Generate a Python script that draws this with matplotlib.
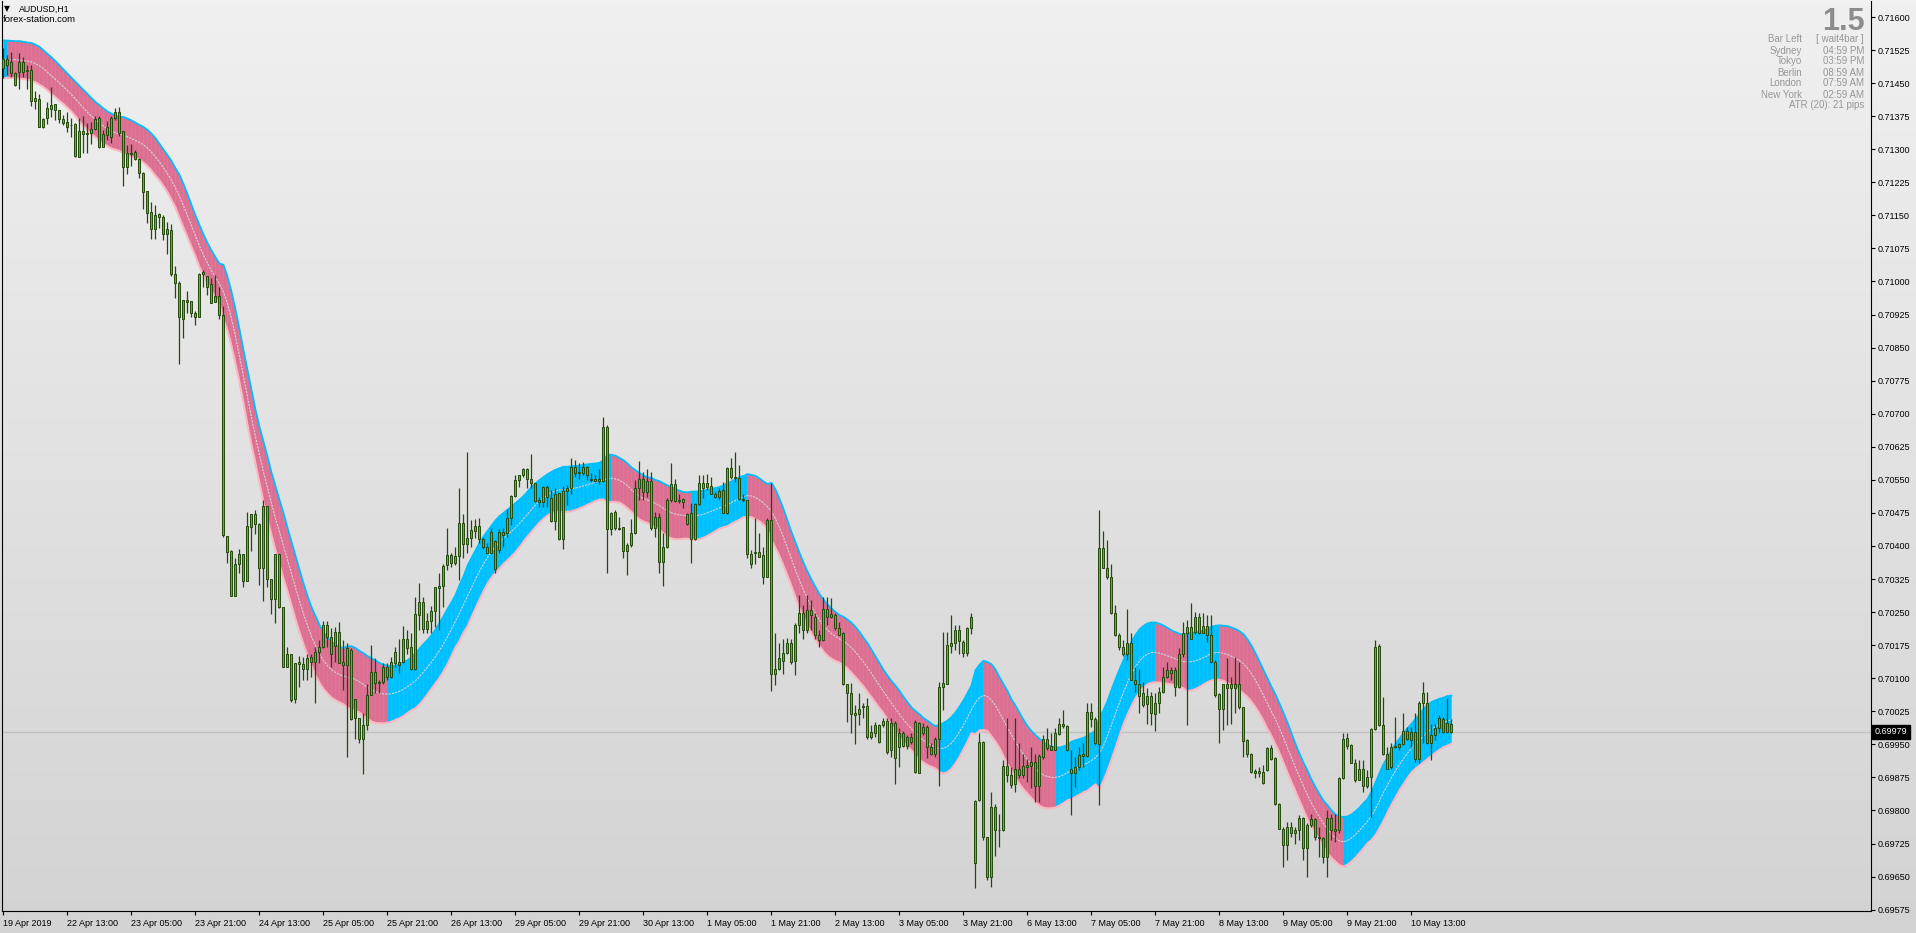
"""
AUDUSD H1 candles with a smoothed ATR channel, redrawn from a MetaTrader screenshot.
"""

import numpy as np
import matplotlib
matplotlib.use('Agg')
import matplotlib.pyplot as plt
import matplotlib.transforms as mtransforms
from matplotlib.collections import PolyCollection
from matplotlib.colors import LinearSegmentedColormap

plt.rcParams['font.family'] = ['Liberation Sans', 'DejaVu Sans']

# OHLC in points (1e-5), one value per H1 bar
open_pts = [
    71484, 71504, 71474, 71445, 71476, 71497, 71480, 71480, 71410, 71413,
    71350, 71370, 71392, 71389, 71388, 71360, 71362, 71356, 71357, 71283,
    71334, 71336, 71336, 71347, 71370, 71306, 71332, 71327, 71372, 71384,
    71341, 71259, 71289, 71293, 71277, 71245, 71205, 71158, 71120, 71146,
    71146, 71107, 71117, 71017, 70996, 70916, 70959, 70956, 70928, 70919,
    71021, 70988, 70994, 70954, 70967, 70924, 70422, 70388, 70287, 70360,
    70382, 70321, 70442, 70450, 70450, 70351, 70491, 70324, 70279, 70382,
    70261, 70126, 70155, 70052, 70132, 70132, 70122, 70137, 70136, 70160,
    70171, 70221, 70194, 70174, 70204, 70137, 70130, 70164, 70052, 70009,
    69963, 69994, 70062, 70115, 70092, 70092, 70102, 70102, 70135, 70136,
    70136, 70190, 70170, 70120, 70243, 70273, 70211, 70230, 70253, 70304,
    70309, 70357, 70379, 70362, 70377, 70453, 70404, 70417, 70435, 70445,
    70415, 70398, 70385, 70411, 70391, 70426, 70429, 70463, 70513, 70550,
    70560, 70574, 70553, 70542, 70500, 70500, 70533, 70508, 70457, 70521,
    70415, 70525, 70531, 70580, 70566, 70566, 70580, 70552, 70548, 70548,
    70548, 70670, 70438, 70478, 70440, 70442, 70388, 70402, 70430, 70531,
    70551, 70523, 70548, 70440, 70466, 70364, 70397, 70504, 70540, 70503,
    70500, 70450, 70415, 70415, 70495, 70531, 70542, 70536, 70519, 70510,
    70527, 70475, 70576, 70557, 70555, 70506, 70504, 70382, 70383, 70387,
    70379, 70330, 70460, 70109, 70122, 70140, 70158, 70180, 70140, 70220,
    70249, 70209, 70254, 70239, 70198, 70186, 70258, 70239, 70243, 70214,
    70202, 70086, 70067, 70020, 70019, 70034, 70037, 69966, 69976, 69956,
    69994, 70003, 69937, 69999, 69944, 69975, 69946, 69966, 70001, 69886,
    69975, 69990, 69945, 69928, 69963, 70079, 70088, 70173, 70179, 70209,
    70183, 70158, 70213, 69681, 69823, 69956, 69739, 69650, 69807, 69755,
    69755, 69900, 69880, 69861, 69895, 69880, 69898, 69901, 69910, 69855,
    69922, 69963, 69938, 69938, 69973, 69996, 69992, 69884, 69884, 69898,
    69923, 69923, 70024, 70007, 69951, 70395, 70351, 70330, 70247, 70198,
    70171, 70155, 70179, 70097, 70087, 70066, 70041, 70059, 70019, 70044,
    70069, 70103, 70112, 70118, 70079, 70155, 70202, 70217, 70205, 70238,
    70203, 70218, 70198, 70137, 70064, 70031, 70077, 70087, 70077, 70087,
    70034, 69960, 69929, 69884, 69889, 69888, 69891, 69941, 69918, 69814,
    69759, 69721, 69748, 69748, 69755, 69784, 69714, 69767, 69780, 69740,
    69737, 69695, 69782, 69757, 69755, 69873, 69965, 69948, 69908, 69870,
    69895, 69855, 69875, 69984, 70173, 69994, 69895, 69898, 69943, 69945,
    69951, 69981, 69960, 69979, 69916, 70066, 70044, 69952, 69971, 69986,
    70007, 69979, 69997,
]
high_pts = [
    71529, 71514, 71520, 71476, 71519, 71510, 71491, 71491, 71431, 71425,
    71372, 71408, 71442, 71403, 71388, 71378, 71385, 71370, 71360, 71370,
    71375, 71359, 71362, 71375, 71375, 71344, 71365, 71375, 71393, 71395,
    71341, 71310, 71311, 71298, 71279, 71249, 71206, 71180, 71174, 71156,
    71150, 71136, 71130, 71035, 71002, 70959, 70979, 70956, 70934, 71020,
    71026, 71012, 71009, 71014, 70988, 70944, 70422, 70391, 70372, 70393,
    70382, 70476, 70472, 70481, 70453, 70504, 70491, 70324, 70382, 70382,
    70261, 70170, 70155, 70134, 70150, 70149, 70156, 70155, 70171, 70187,
    70230, 70230, 70213, 70217, 70228, 70187, 70179, 70168, 70052, 70009,
    70020, 70088, 70175, 70145, 70096, 70135, 70135, 70149, 70171, 70190,
    70218, 70209, 70202, 70285, 70317, 70285, 70247, 70264, 70308, 70339,
    70360, 70440, 70383, 70398, 70531, 70472, 70614, 70459, 70461, 70463,
    70421, 70406, 70441, 70413, 70438, 70440, 70483, 70516, 70561, 70562,
    70576, 70576, 70609, 70542, 70512, 70536, 70538, 70527, 70531, 70521,
    70536, 70538, 70599, 70595, 70589, 70590, 70581, 70566, 70561, 70574,
    70693, 70674, 70478, 70481, 70466, 70444, 70406, 70462, 70550, 70593,
    70568, 70574, 70568, 70478, 70474, 70429, 70508, 70589, 70553, 70519,
    70508, 70474, 70497, 70498, 70561, 70561, 70563, 70556, 70523, 70531,
    70546, 70580, 70599, 70614, 70584, 70519, 70504, 70391, 70463, 70429,
    70398, 70463, 70542, 70202, 70180, 70188, 70192, 70190, 70226, 70289,
    70266, 70289, 70277, 70247, 70209, 70285, 70285, 70281, 70247, 70228,
    70204, 70086, 70090, 70039, 70066, 70043, 70054, 69994, 70001, 69997,
    70009, 70009, 70009, 70004, 69986, 69981, 69972, 69975, 70005, 70001,
    69999, 69994, 69952, 69967, 70092, 70205, 70205, 70243, 70220, 70220,
    70187, 70217, 70249, 69823, 69975, 69957, 69740, 69842, 69814, 69793,
    69914, 70009, 69899, 70009, 69952, 69929, 69916, 69945, 69929, 69929,
    69971, 69986, 69975, 69986, 70009, 70028, 69994, 69937, 69922, 69944,
    69952, 70043, 70043, 70013, 70481, 70435, 70413, 70360, 70266, 70202,
    70187, 70258, 70202, 70125, 70122, 70092, 70077, 70069, 70066, 70081,
    70126, 70137, 70126, 70126, 70168, 70228, 70232, 70270, 70251, 70249,
    70247, 70243, 70243, 70141, 70066, 70088, 70145, 70103, 70149, 70137,
    70035, 69963, 69931, 69895, 69899, 69903, 69945, 69948, 69922, 69817,
    69763, 69774, 69774, 69763, 69789, 69786, 69771, 69793, 69782, 69763,
    69740, 69801, 69793, 69793, 69876, 69976, 69976, 69950, 69916, 69914,
    69914, 69892, 69986, 70187, 70177, 70058, 69945, 69952, 70013, 69952,
    70020, 69990, 69990, 70020, 70049, 70092, 70069, 69996, 69997, 70016,
    70011, 70054, 70007,
]
low_pts = [
    71461, 71468, 71465, 71444, 71436, 71465, 71436, 71397, 71391, 71350,
    71349, 71357, 71374, 71366, 71359, 71355, 71340, 71328, 71283, 71283,
    71292, 71292, 71313, 71344, 71303, 71306, 71321, 71315, 71366, 71330,
    71217, 71244, 71262, 71276, 71234, 71164, 71133, 71096, 71096, 71122,
    71093, 71062, 71012, 70963, 70812, 70871, 70928, 70920, 70901, 70919,
    70988, 70969, 70952, 70954, 70916, 70420, 70362, 70287, 70287, 70339,
    70307, 70321, 70389, 70427, 70311, 70276, 70307, 70246, 70226, 70260,
    70126, 70126, 70047, 70043, 70081, 70096, 70096, 70103, 70043, 70134,
    70168, 70171, 70126, 70137, 70135, 70073, 69922, 70006, 69963, 69952,
    69882, 69982, 70062, 70066, 70066, 70088, 70096, 70100, 70126, 70111,
    70134, 70156, 70118, 70118, 70209, 70202, 70202, 70202, 70217, 70209,
    70262, 70345, 70353, 70357, 70323, 70372, 70383, 70398, 70417, 70406,
    70394, 70383, 70383, 70338, 70383, 70398, 70421, 70447, 70512, 70533,
    70557, 70531, 70531, 70500, 70489, 70489, 70489, 70455, 70436, 70413,
    70392, 70493, 70519, 70557, 70553, 70561, 70550, 70546, 70546, 70540,
    70546, 70338, 70425, 70436, 70436, 70372, 70334, 70398, 70428, 70504,
    70504, 70512, 70436, 70421, 70339, 70309, 70395, 70500, 70500, 70497,
    70485, 70447, 70362, 70413, 70493, 70508, 70527, 70518, 70508, 70504,
    70474, 70472, 70553, 70546, 70504, 70500, 70372, 70349, 70360, 70374,
    70314, 70329, 70072, 70084, 70118, 70109, 70156, 70133, 70107, 70202,
    70190, 70202, 70209, 70188, 70171, 70185, 70220, 70236, 70209, 70198,
    70084, 70001, 69976, 69951, 69994, 70009, 69963, 69963, 69967, 69954,
    69990, 69929, 69922, 69860, 69899, 69944, 69940, 69950, 69884, 69884,
    69971, 69920, 69926, 69922, 69855, 70028, 70088, 70158, 70164, 70156,
    70149, 70150, 70200, 69625, 69822, 69733, 69642, 69627, 69696, 69718,
    69754, 69865, 69850, 69842, 69873, 69873, 69865, 69850, 69820, 69820,
    69916, 69938, 69937, 69937, 69971, 69986, 69935, 69789, 69853, 69891,
    69899, 69922, 69990, 69948, 69812, 70349, 70326, 70246, 70196, 70164,
    70150, 70141, 70096, 70069, 70020, 70035, 69997, 69994, 69981, 70020,
    70066, 70100, 70097, 70059, 70077, 70149, 69994, 70188, 70201, 70200,
    70202, 70183, 70135, 70058, 69952, 69982, 69994, 69997, 70020, 70031,
    69922, 69922, 69884, 69873, 69876, 69860, 69890, 69914, 69812, 69757,
    69671, 69687, 69740, 69725, 69734, 69687, 69648, 69763, 69733, 69695,
    69680, 69650, 69733, 69729, 69749, 69871, 69940, 69907, 69865, 69869,
    69842, 69850, 69786, 69982, 69992, 69926, 69893, 69895, 69941, 69938,
    69948, 69960, 69945, 69910, 69907, 69952, 69951, 69914, 69960, 69975,
    69975, 69975, 69976,
]
close_pts = [
    71504, 71490, 71497, 71472, 71497, 71476, 71477, 71410, 71416, 71350,
    71368, 71393, 71400, 71402, 71368, 71369, 71351, 71354, 71285, 71341,
    71341, 71334, 71347, 71368, 71306, 71334, 71350, 71370, 71384, 71336,
    71259, 71291, 71291, 71277, 71245, 71204, 71156, 71120, 71150, 71152,
    71107, 71118, 71017, 70996, 70919, 70959, 70954, 70928, 70920, 71018,
    71016, 71012, 70952, 70967, 70924, 70425, 70387, 70287, 70360, 70382,
    70321, 70445, 70472, 70472, 70351, 70491, 70324, 70279, 70382, 70261,
    70126, 70155, 70050, 70134, 70137, 70120, 70145, 70147, 70160, 70171,
    70221, 70194, 70156, 70204, 70135, 70131, 70168, 70007, 70009, 69963,
    69994, 70062, 70115, 70090, 70090, 70126, 70126, 70136, 70160, 70131,
    70190, 70168, 70120, 70246, 70273, 70211, 70230, 70253, 70306, 70309,
    70354, 70379, 70362, 70377, 70453, 70404, 70419, 70436, 70445, 70415,
    70397, 70385, 70431, 70347, 70431, 70432, 70463, 70513, 70550, 70560,
    70574, 70553, 70542, 70503, 70505, 70534, 70512, 70457, 70519, 70415,
    70525, 70531, 70580, 70566, 70568, 70580, 70561, 70550, 70553, 70553,
    70670, 70438, 70475, 70440, 70439, 70388, 70402, 70430, 70531, 70551,
    70523, 70548, 70440, 70466, 70364, 70397, 70504, 70540, 70503, 70504,
    70506, 70472, 70474, 70495, 70542, 70542, 70534, 70519, 70510, 70525,
    70475, 70576, 70556, 70555, 70506, 70504, 70382, 70360, 70387, 70376,
    70330, 70459, 70109, 70122, 70145, 70158, 70180, 70137, 70220, 70249,
    70209, 70254, 70243, 70198, 70186, 70258, 70238, 70245, 70213, 70199,
    70086, 70067, 70019, 70016, 70031, 70037, 69966, 69978, 69994, 69994,
    70003, 69933, 69999, 69918, 69975, 69946, 69966, 69955, 69888, 69999,
    69990, 69945, 69928, 69963, 70081, 70088, 70175, 70179, 70209, 70185,
    70158, 70213, 70238, 69822, 69956, 69739, 69648, 69807, 69755, 69756,
    69901, 69880, 69858, 69895, 69880, 69901, 69903, 69910, 69855, 69923,
    69963, 69941, 69946, 69975, 69997, 69991, 69937, 69895, 69899, 69926,
    69928, 70024, 70007, 69952, 70395, 70351, 70330, 70247, 70198, 70170,
    70155, 70179, 70097, 70087, 70059, 70039, 70059, 70020, 70044, 70069,
    70103, 70118, 70118, 70079, 70156, 70203, 70217, 70190, 70238, 70203,
    70218, 70198, 70137, 70062, 70031, 70087, 70087, 70077, 70087, 70034,
    69958, 69929, 69888, 69889, 69886, 69863, 69941, 69916, 69814, 69759,
    69721, 69763, 69762, 69755, 69784, 69714, 69767, 69780, 69739, 69737,
    69695, 69782, 69755, 69754, 69873, 69963, 69946, 69908, 69870, 69895,
    69855, 69875, 69984, 70170, 69994, 69928, 69928, 69945, 69946, 69951,
    69981, 69961, 69979, 69916, 70044, 70044, 69952, 69971, 69986, 70009,
    69979, 69999, 69979,
]

# one time label every 16 bars
time_labels = [
    '19 Apr 2019', '22 Apr 13:00', '23 Apr 05:00', '23 Apr 21:00', '24 Apr 13:00',
    '25 Apr 05:00', '25 Apr 21:00', '26 Apr 13:00', '29 Apr 05:00', '29 Apr 21:00',
    '30 Apr 13:00', '1 May 05:00', '1 May 21:00', '2 May 13:00', '3 May 05:00',
    '3 May 21:00', '6 May 13:00', '7 May 05:00', '7 May 21:00', '8 May 13:00',
    '9 May 05:00', '9 May 21:00', '10 May 13:00',
]
label_every = 16

price_ticks = [0.69575 + 0.00075 * k for k in range(28)]
last_price = 0.69979

panel_names = ['Bar Left', 'Sydney', 'Tokyo', 'Berlin', 'London', 'New York']
panel_values = ['[ wait4bar ]', '04:59 PM', '03:59 PM', '08:59 AM', '07:59 AM', '02:59 AM']
atr_text = 'ATR (20): 21 pips'
spread_text = '1.5'

# colours
BULL = '#3cc82a'
BEAR = '#c8784a'
WICK = '#234a0c'
BAND_UP = '#00bfff'
BAND_DN = '#db7093'
BAND_LOW = '#ffb6c1'
MID_LINE = '#d6d6d6'
PANEL_GRAY = '#969696'


def two_pole_smoother(x, period, damping):
    """Two-pole low-pass (Ehlers style), damping 0.707 = super smoother."""
    w = 2 * np.pi / period
    a = np.exp(-damping * w)
    c2 = 2 * a * np.cos(w * np.sqrt(1 - damping ** 2))
    c3 = -a * a
    c1 = 1 - c2 - c3
    out = np.empty_like(x)
    out[:2] = x[0]
    for i in range(2, len(x)):
        out[i] = c1 * (x[i] + x[i - 1]) / 2 + c2 * out[i - 1] + c3 * out[i - 2]
    return out


def wilder_atr(high, low, close, period):
    prev = np.concatenate([[close[0]], close[:-1]])
    tr = np.maximum(high - low, np.maximum(abs(high - prev), abs(low - prev)))
    atr = np.empty_like(tr)
    atr[0] = tr[:10].mean()
    for i in range(1, len(tr)):
        atr[i] = atr[i - 1] + (tr[i] - atr[i - 1]) / period
    return atr


o = np.array(open_pts) / 1e5
h = np.array(high_pts) / 1e5
l = np.array(low_pts) / 1e5
c = np.array(close_pts) / 1e5
x = np.arange(len(c))

mid = two_pole_smoother(c, 44, 0.55)
width = 0.7 * wilder_atr(h, l, c, 20)
upper, lower = mid + width, mid - width

W, H = 1916, 933
fig = plt.figure(figsize=(W / 100, H / 100), dpi=100)

# background gradient over the whole window
bg = fig.add_axes([0, 0, 1, 1], zorder=-5)
bg.imshow(np.linspace(0, 1, 256)[:, None], aspect='auto', extent=(0, 1, 0, 1),
          cmap=LinearSegmentedColormap.from_list('bg', ['#f0f0f0', '#d3d3d3']))
bg.axis('off')

ax = fig.add_axes([2 / W, (H - 911) / H, 1869 / W, 910 / H])
ax.patch.set_alpha(0)

# channel, coloured by slope of the midline
segs, cols = [], []
for i in range(1, len(x)):
    segs.append([(i - 1, lower[i - 1]), (i, lower[i]), (i, upper[i]), (i - 1, upper[i - 1])])
    cols.append(BAND_UP if mid[i] >= mid[i - 1] else BAND_DN)
ax.add_collection(PolyCollection(segs, facecolors=cols, edgecolors=cols, linewidths=0.3, zorder=2))
ax.plot(x, upper, color=BAND_UP, lw=1.3, zorder=2.5)
ax.plot(x, lower, color=BAND_LOW, lw=1.5, zorder=2.5)
ax.plot(x, mid, color=MID_LINE, lw=0.8, ls=(0, (2, 1)), zorder=2.6)

ax.axhline(last_price, color='#c0c0c0', lw=1, zorder=1)

# candles
bull = c >= o
ax.vlines(x, l, h, color=WICK, lw=0.9, zorder=3)
ax.bar(x, np.maximum(abs(c - o), 1e-7), bottom=np.minimum(o, c), width=0.5,
       color=np.where(bull, BULL, BEAR), edgecolor=WICK, linewidth=0.7, zorder=4)

ax.set_xlim(-0.375, 466.875)
ax.set_ylim(0.695719, 0.716363)

for side in ('left', 'right', 'bottom'):
    ax.spines[side].set_linewidth(0.8)
    ax.spines[side].set_color('black')
ax.spines['top'].set_visible(False)

ax.yaxis.tick_right()
ax.set_yticks(price_ticks)
ax.set_yticklabels([f'{p:.5f}' for p in price_ticks])
ax.tick_params(axis='y', direction='out', length=3, width=0.8, pad=2, labelsize=6.5,
               left=False, right=True, labelleft=False, labelright=True)

ax.set_xticks(np.arange(len(time_labels)) * label_every)
ax.set_xticklabels(time_labels, ha='left')
ax.tick_params(axis='x', direction='out', length=3, width=0.8, pad=3, labelsize=6.5)

# current price marker
trans = mtransforms.blended_transform_factory(ax.transAxes, ax.transData)
ax.text(1.0018, last_price, f'{last_price:.5f}', transform=trans, ha='left', va='center',
        color='white', fontsize=6.5, zorder=10, clip_on=False,
        bbox=dict(boxstyle='square,pad=0.28', fc='black', ec='black'))


def ftext(px, py, s, **kw):
    fig.text(px / W, 1 - py / H, s, **kw)


# header
ftext(4, 8.5, '\u25bc', fontsize=5.5, va='center', ha='left', family=['DejaVu Sans'])
ftext(19, 9, 'AUDUSD,H1', fontsize=6.3, va='center', ha='left',
      family=['Liberation Sans Narrow', 'Liberation Sans', 'DejaVu Sans'])
ftext(3, 19.5, 'forex-station.com', fontsize=6.8, va='center', ha='left')

# info panel top right
ftext(1865, 30, spread_text, fontsize=22, fontweight='bold', color='#8c8c8c',
      ha='right', va='baseline')
for k, (name, val) in enumerate(zip(panel_names, panel_values)):
    ftext(1802, 39.5 + 11 * k, name, fontsize=7, color=PANEL_GRAY, ha='right', va='center')
    ftext(1864, 39.5 + 11 * k, val, fontsize=7, color=PANEL_GRAY, ha='right', va='center')
ftext(1864, 39.5 + 11 * 6, atr_text, fontsize=7, color=PANEL_GRAY, ha='right', va='center')

fig.savefig('out.png', dpi=100)
